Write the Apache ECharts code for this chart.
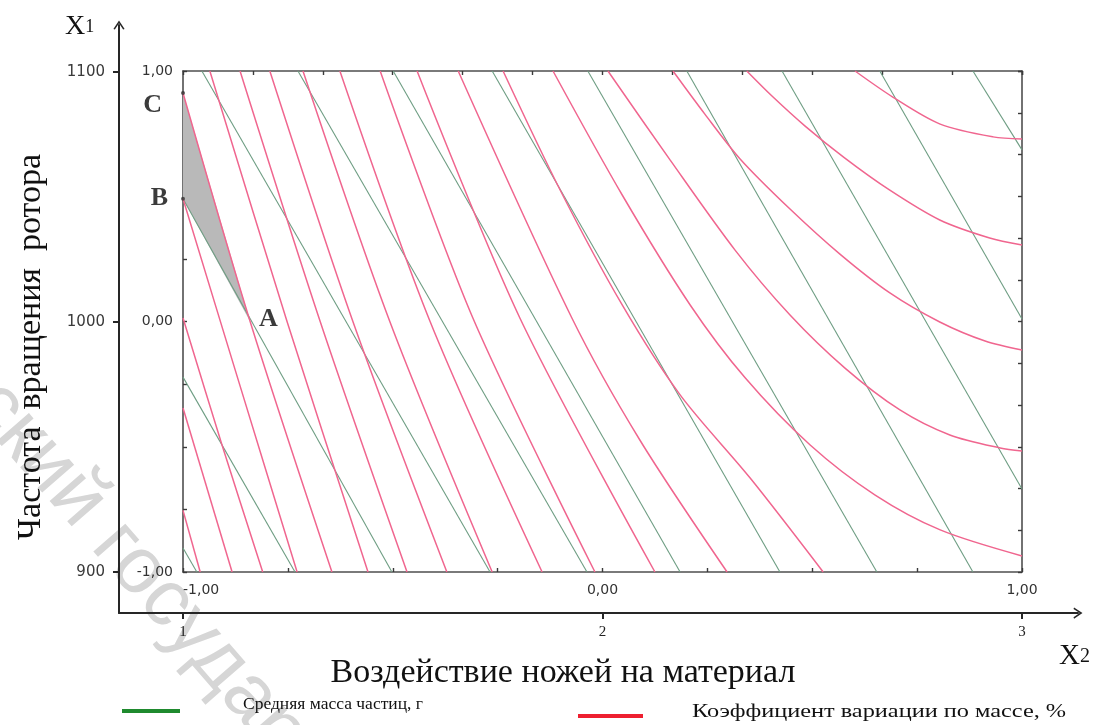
<!DOCTYPE html>
<html>
<head>
<meta charset="utf-8">
<script src="https://cdn.jsdelivr.net/npm/echarts@6/dist/echarts.min.js"></script>
<style>
  html, body { margin: 0; padding: 0; background: #ffffff; }
  #chart { width: 1099px; height: 725px; }
</style>
</head>
<body>
<div id="chart"></div>
<script>
// Coded factor levels (X2 horizontal, X1 vertical) and natural-unit tick values
const codedTicks = [-1, 0, 1];
const rotorSpeedTicks = [900, 1000, 1100];
const knifeActionTicks = [1, 2, 3];

// Isolines of mean particle mass, g: [X2, X1] points in coded units
const massLevels = [
  [[-1, -0.904], [-0.967, -1]],
  [[-1, -0.222], [-0.733, -1]],
  [[-1, 0.49], [-0.502, -1]],
  [[-0.955, 1], [-0.268, -1]],
  [[-0.726, 1], [-0.037, -1]],
  [[-0.499, 1], [0.185, -1]],
  [[-0.263, 1], [0.423, -1]],
  [[-0.035, 1], [0.654, -1]],
  [[0.201, 1], [0.883, -1]],
  [[0.428, 1], [1, -0.669]],
  [[0.661, 1], [1, 0.010]],
  [[0.883, 1], [1, 0.685]]
];

// Isolines of the coefficient of variation by mass, %
const variationLevels = [
  [[-1, -0.754], [-0.959, -1]],
  [[-1, -0.345], [-0.883, -1]],
  [[-1, 0.014], [-0.907, -0.493], [-0.810, -1]],
  [[-1, 0.49], [-0.864, -0.257], [-0.728, -1]],
  [[-1, 0.912], [-0.840, 0], [-0.645, -1]],
  [[-0.936, 1], [-0.752, 0], [-0.559, -1]],
  [[-0.864, 1], [-0.673, 0], [-0.466, -1]],
  [[-0.793, 1], [-0.595, 0], [-0.371, -1]],
  [[-0.714, 1], [-0.507, 0], [-0.263, -1]],
  [[-0.626, 1], [-0.411, 0], [-0.144, -1]],
  [[-0.530, 1], [-0.309, 0.014], [-0.018, -1]],
  [[-0.442, 1], [-0.197, 0.014], [0.125, -1]],
  [[-0.344, 1], [-0.073, 0.014], [0.089, -0.473], [0.297, -1]],
  [[-0.237, 1], [-0.101, 0.525], [0.047, 0.066], [0.185, -0.293], [0.352, -0.625], [0.526, -1]],
  [[-0.118, 1], [0.047, 0.505], [0.209, 0.066], [0.340, -0.225], [0.495, -0.493], [0.650, -0.693], [0.805, -0.832], [1, -0.936]],
  [[0.013, 1], [0.161, 0.645], [0.316, 0.285], [0.447, 0.026], [0.578, -0.186], [0.709, -0.353], [0.828, -0.453], [0.948, -0.505], [1, -0.517]],
  [[0.168, 1], [0.244, 0.828], [0.328, 0.649], [0.447, 0.449], [0.566, 0.269], [0.685, 0.114], [0.804, -0.002], [0.912, -0.078], [1, -0.114]],
  [[0.344, 1], [0.404, 0.900], [0.483, 0.780], [0.577, 0.653], [0.684, 0.525], [0.804, 0.405], [0.923, 0.333], [1, 0.305]],
  [[0.602, 1], [0.692, 0.896], [0.805, 0.788], [0.931, 0.737], [1, 0.729]]
];

// Shaded compromise region and its corner points
const regionVertices = [[-1, 0.912], [-1, 0.49], [-0.840, 0]];
const pointNames = ['C', 'B', 'A'];
const pointX = [-1, -1, -0.840];
const pointY = [0.912, 0.49, 0];

const massName = 'Средняя масса частиц, г';
const variationName = 'Коэффициент вариации по массе, %';

const coded = v => v.toFixed(2).replace('.', ',');
const plain = v => String(v);
const chevron = 'path://M0,9 L6,0 L12,9 L10.4,9.6 L6,3 L1.6,9.6 Z';

const frameLine = { show: true, onZero: false, lineStyle: { color: '#4f4f4f', width: 1.6 } };
const innerTick = { show: true, inside: true, length: 4, lineStyle: { color: '#3a3a3a', width: 1.4 } };
const codedLabel = {
  customValues: codedTicks, formatter: coded, fontFamily: 'DejaVu Sans',
  fontSize: 14, color: '#333'
};

const series = [];

series.push({
  type: 'custom', xAxisIndex: 0, yAxisIndex: 0, silent: true, z: 1,
  data: [regionVertices[2]],
  renderItem: (params, api) => ({
    type: 'polygon',
    shape: { points: regionVertices.map(p => api.coord(p)) },
    style: { fill: '#b9b9b9' }
  })
});

massLevels.forEach(line => series.push({
  name: massName, type: 'line', data: line, xAxisIndex: 0, yAxisIndex: 0,
  symbol: 'none', silent: true, z: 3,
  itemStyle: { color: '#1f8a2e' },
  lineStyle: { color: '#6e9d83', width: 1.1 }
}));

variationLevels.forEach(line => series.push({
  name: variationName, type: 'line', data: line, xAxisIndex: 0, yAxisIndex: 0,
  symbol: 'none', silent: true, smooth: 0.3, z: 4,
  itemStyle: { color: '#ee1f30' },
  lineStyle: { color: '#f0668f', width: 1.5 }
}));

const pointLabel = {
  A: { position: 'right', offset: [4, -2] },
  B: { position: 'left', offset: [-8, 0] },
  C: { position: 'left', offset: [-14, 12] }
};
series.push({
  type: 'scatter', xAxisIndex: 0, yAxisIndex: 0, z: 6, silent: true,
  data: pointNames.map((n, i) => ({
    name: n, value: [pointX[i], pointY[i]],
    symbolSize: n === 'A' ? 0 : 4,
    label: pointLabel[n]
  })),
  itemStyle: { color: '#333' },
  label: {
    show: true, formatter: '{b}', fontFamily: 'Liberation Serif',
    fontWeight: 'bold', fontSize: 26, color: '#0a0a0a'
  }
});

const option = {
  animation: false,
  backgroundColor: '#ffffff',
  grid: [
    { left: 183, top: 71, width: 839, height: 501 },
    { left: 119, top: 25, right: 21, bottom: 112 }
  ],
  xAxis: [
    {
      gridIndex: 0, type: 'value', min: -1, max: 1, interval: 0.25, position: 'bottom',
      axisLine: frameLine, axisTick: innerTick, splitLine: { show: false },
      axisLabel: Object.assign({ margin: 11, alignMinLabel: 'left' }, codedLabel)
    },
    {
      gridIndex: 0, type: 'value', min: -1, max: 1, interval: 1 / 6, position: 'top',
      axisLine: frameLine, axisTick: innerTick, splitLine: { show: false },
      axisLabel: { show: false }
    },
    {
      gridIndex: 1, type: 'value', min: 0.8474, max: 3.1335, position: 'bottom',
      axisLine: { show: true, onZero: false, symbol: ['none', chevron], symbolSize: [12, 9],
        lineStyle: { color: '#262626', width: 2 } },
      axisTick: { show: true, customValues: knifeActionTicks, length: 6,
        lineStyle: { color: '#262626', width: 2 } },
      axisLabel: { customValues: knifeActionTicks, formatter: plain, margin: 12,
        fontFamily: 'Liberation Serif', fontSize: 15, color: '#222' },
      splitLine: { show: false }
    }
  ],
  yAxis: [
    {
      gridIndex: 0, type: 'value', min: -1, max: 1, interval: 0.25, position: 'left',
      axisLine: frameLine, axisTick: innerTick, splitLine: { show: false },
      axisLabel: Object.assign({ margin: 10 }, codedLabel)
    },
    {
      gridIndex: 0, type: 'value', min: -1, max: 1, interval: 1 / 6, position: 'right',
      axisLine: frameLine, axisTick: innerTick, splitLine: { show: false },
      axisLabel: { show: false }
    },
    {
      gridIndex: 1, type: 'value', min: 883.6, max: 1118.8, position: 'left',
      axisLine: { show: true, onZero: false, symbol: ['none', chevron], symbolSize: [12, 9],
        lineStyle: { color: '#262626', width: 2 } },
      axisTick: { show: true, customValues: rotorSpeedTicks, length: 6,
        lineStyle: { color: '#262626', width: 2 } },
      axisLabel: { customValues: rotorSpeedTicks, formatter: plain, margin: 14,
        fontFamily: 'DejaVu Sans', fontSize: 15, color: '#3a3a3a' },
      splitLine: { show: false }
    }
  ],
  legend: [
    {
      data: [{ name: massName, icon: 'rect', itemStyle: { color: '#1f8a2e' } }],
      left: 117, top: 704, itemWidth: 58, itemHeight: 4, selectedMode: false,
      formatter: () => '', textStyle: { fontSize: 1 }
    },
    {
      data: [{ name: variationName, icon: 'rect', itemStyle: { color: '#ee1f30' } }],
      left: 573, top: 709, itemWidth: 65, itemHeight: 4, selectedMode: false,
      formatter: () => '', textStyle: { fontSize: 1 }
    }
  ],
  graphic: [
    {
      type: 'text', x: -16, y: 392, rotation: -0.855, silent: true, z: 0,
      style: { text: 'ский государ', font: '80px "Liberation Sans"', fill: '#d6d6d6',
        align: 'left', verticalAlign: 'middle' }
    },
    {
      type: 'text', x: 31, y: 347, rotation: Math.PI / 2, silent: true,
      style: { text: 'Частота  вращения  ротора', font: '34px "Liberation Serif"', fill: '#111',
        align: 'center', verticalAlign: 'middle' }
    },
    {
      type: 'text', x: 563, y: 673, silent: true,
      style: { text: 'Воздействие ножей на материал', font: '34px "Liberation Serif"', fill: '#111',
        align: 'center', verticalAlign: 'middle' }
    },
    {
      type: 'text', x: 243, y: 704, silent: true,
      style: { text: massName, font: '17.5px "Liberation Serif"', fill: '#111',
        align: 'left', verticalAlign: 'middle' }
    },
    {
      type: 'text', x: 692, y: 712, scaleX: 1.28, silent: true,
      style: { text: variationName, font: '19px "Liberation Serif"', fill: '#111',
        align: 'left', verticalAlign: 'middle' }
    },
    {
      type: 'text', x: 65, y: 41, silent: true,
      style: {
        text: '{a|X}{b|1}', align: 'left', verticalAlign: 'bottom',
        rich: {
          a: { fontFamily: 'Liberation Serif', fontSize: 28, fill: '#111', color: '#111' },
          b: { fontFamily: 'Liberation Serif', fontSize: 18, fill: '#111', color: '#111' }
        }
      }
    },
    {
      type: 'text', x: 1059, y: 671, silent: true,
      style: {
        text: '{a|X}{b|2}', align: 'left', verticalAlign: 'bottom',
        rich: {
          a: { fontFamily: 'Liberation Serif', fontSize: 29, fill: '#111', color: '#111' },
          b: { fontFamily: 'Liberation Serif', fontSize: 20, fill: '#111', color: '#111' }
        }
      }
    }
  ],
  series: series
};

const chart = echarts.init(document.getElementById('chart'), null, { renderer: 'canvas' });
chart.setOption(option);
</script>
</body>
</html>
